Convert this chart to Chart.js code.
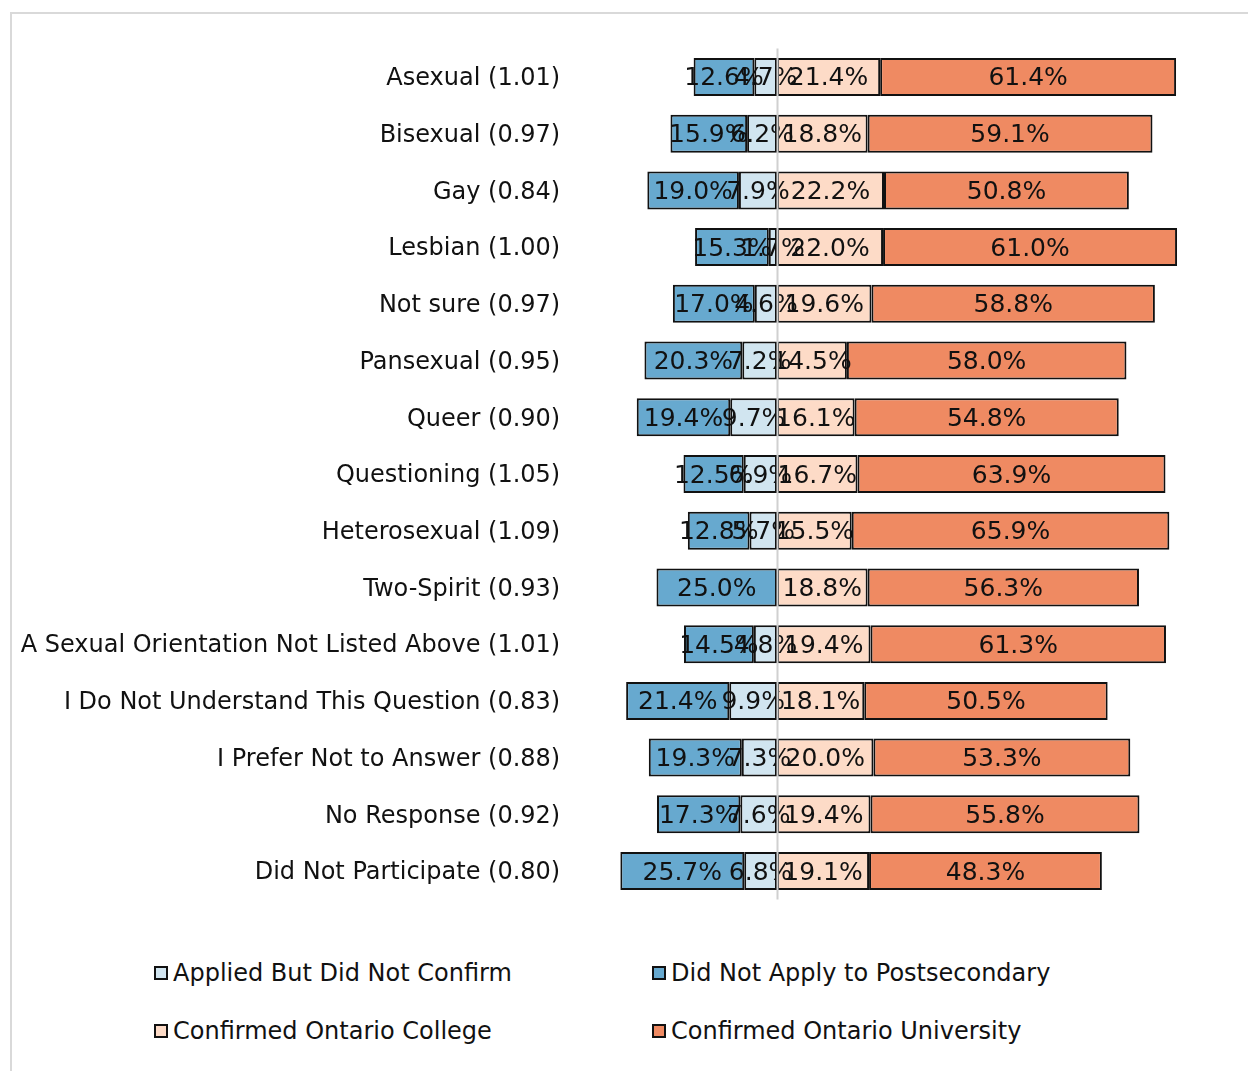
<!DOCTYPE html>
<html>
<head>
<meta charset="utf-8">
<script src="https://cdn.jsdelivr.net/npm/chart.js@4.4.0/dist/chart.umd.min.js"></script>
<style>
  body { margin: 0; background: #fff; font-family: "DejaVu Sans", Verdana, sans-serif; }
  #frame { position: absolute; left: 10px; top: 12px; width: 1260px; height: 1080px;
           border-top: 2px solid #d9d9d9; border-left: 2px solid #d9d9d9; }
  #chart { position: absolute; left: 0; top: 0; }
  .leg   { position: absolute; display: flex; align-items: center; font-size: 24px; color: #111; white-space: nowrap; }
  .leg i { display: inline-block; box-sizing: border-box; width: 14px; height: 14px; border: 2px solid #111; margin-right: 5px; }
</style>
</head>
<body>
<div id="frame"></div>
<canvas id="chart" width="1248" height="920"></canvas>
<div id="legend"></div>

<script>
"use strict";

// ── Data ─────────────────────────────────────────────────────────────────────
const categories = [
  "Asexual (1.01)", "Bisexual (0.97)", "Gay (0.84)", "Lesbian (1.00)",
  "Not sure (0.97)", "Pansexual (0.95)", "Queer (0.90)", "Questioning (1.05)",
  "Heterosexual (1.09)", "Two-Spirit (0.93)",
  "A Sexual Orientation Not Listed Above (1.01)",
  "I Do Not Understand This Question (0.83)", "I Prefer Not to Answer (0.88)",
  "No Response (0.92)", "Did Not Participate (0.80)",
];
const appliedNotConfirm = [4.7, 6.2, 7.9, 1.7, 4.6, 7.2, 9.7, 6.9, 5.7, 0, 4.8, 9.9, 7.3, 7.6, 6.8];
const didNotApply       = [12.6, 15.9, 19.0, 15.3, 17.0, 20.3, 19.4, 12.5, 12.8, 25.0, 14.5, 21.4, 19.3, 17.3, 25.7];
const confCollege       = [21.4, 18.8, 22.2, 22.0, 19.6, 14.5, 16.1, 16.7, 15.5, 18.8, 19.4, 18.1, 20.0, 19.4, 19.1];
const confUniversity    = [61.4, 59.1, 50.8, 61.0, 58.8, 58.0, 54.8, 63.9, 65.9, 56.3, 61.3, 50.5, 53.3, 55.8, 48.3];

// ── Colours ──────────────────────────────────────────────────────────────────
const CLR = {
  lightBlue: "#d1e5f0",
  darkBlue:  "#67a9cf",
  peach:     "#fddbc7",
  orange:    "#ef8a62",
  centre:    "#d0d0d0",
  text:      "#111",
};
const FONT = '"DejaVu Sans", Verdana, sans-serif';

// left-side series are drawn as negatives so they diverge from 0
const neg = arr => arr.map(v => -v);

const series = [
  { label: "Applied But Did Not Confirm",    data: neg(appliedNotConfirm), color: CLR.lightBlue },
  { label: "Did Not Apply to Postsecondary", data: neg(didNotApply),       color: CLR.darkBlue },
  { label: "Confirmed Ontario College",      data: confCollege,            color: CLR.peach },
  { label: "Confirmed Ontario University",   data: confUniversity,         color: CLR.orange },
];

// ── Plugins ──────────────────────────────────────────────────────────────────
const valueLabels = {
  id: "valueLabels",
  afterDatasetsDraw(chart) {
    const ctx = chart.ctx;
    ctx.save();
    ctx.font = `25px ${FONT}`;
    ctx.fillStyle = CLR.text;
    ctx.textAlign = "center";
    ctx.textBaseline = "middle";
    chart.data.datasets.forEach((ds, i) => {
      chart.getDatasetMeta(i).data.forEach((bar, j) => {
        const v = ds.data[j];
        if (!v) return;
        ctx.fillText(Math.abs(v).toFixed(1) + "%", (bar.x + bar.base) / 2, bar.y + 2);
      });
    });
    ctx.restore();
  },
};

const centreLine = {
  id: "centreLine",
  afterDatasetsDraw(chart) {
    const { ctx, chartArea } = chart;
    const x = Math.round(chart.scales.x.getPixelForValue(0)) + 0.5;
    ctx.save();
    ctx.strokeStyle = CLR.centre;
    ctx.lineWidth = 2;
    ctx.beginPath();
    ctx.moveTo(x, chartArea.top);
    ctx.lineTo(x, chartArea.bottom);
    ctx.stroke();
    ctx.restore();
  },
};

// ── Chart ────────────────────────────────────────────────────────────────────
new Chart(document.getElementById("chart"), {
  type: "bar",
  data: {
    labels: categories,
    datasets: series.map(s => ({
      label: s.label,
      data: s.data,
      backgroundColor: s.color,
      borderColor: "#111",
      borderWidth: 2,
      borderSkipped: false,
      categoryPercentage: 1,
      barPercentage: 0.67,
    })),
  },
  options: {
    indexAxis: "y",
    responsive: false,
    animation: false,
    layout: { padding: { top: 48.6, bottom: 20.6, left: 0, right: 13.1 } },
    scales: {
      x: {
        stacked: true, min: -40, max: 95,
        display: false,
      },
      y: {
        stacked: true,
        grid: { display: false, drawTicks: false },
        border: { display: false },
        ticks: { color: CLR.text, font: { family: FONT, size: 24 }, padding: 24, labelOffset: 2, autoSkip: false },
        afterFit(scale) {
          // fixed label column; labels sit inside their bands so no extra vertical padding
          scale.width = 584.2;
          scale.paddingTop = 0;
          scale.paddingBottom = 0;
        },
      },
    },
    plugins: {
      legend: { display: false },
      tooltip: { enabled: false },
    },
  },
  plugins: [valueLabels, centreLine],
});

// ── Legend (2 x 2 grid) ──────────────────────────────────────────────────────
const legPos = [
  { left: 154, top: 973 }, { left: 652, top: 973 },
  { left: 154, top: 1031 }, { left: 652, top: 1031 },
];
document.getElementById("legend").innerHTML = series.map((s, i) => `
  <div class="leg" style="left:${legPos[i].left}px; top:${legPos[i].top - 15}px; height:30px;">
    <i style="background:${s.color}"></i>${s.label}
  </div>`).join("");
</script>
</body>
</html>
